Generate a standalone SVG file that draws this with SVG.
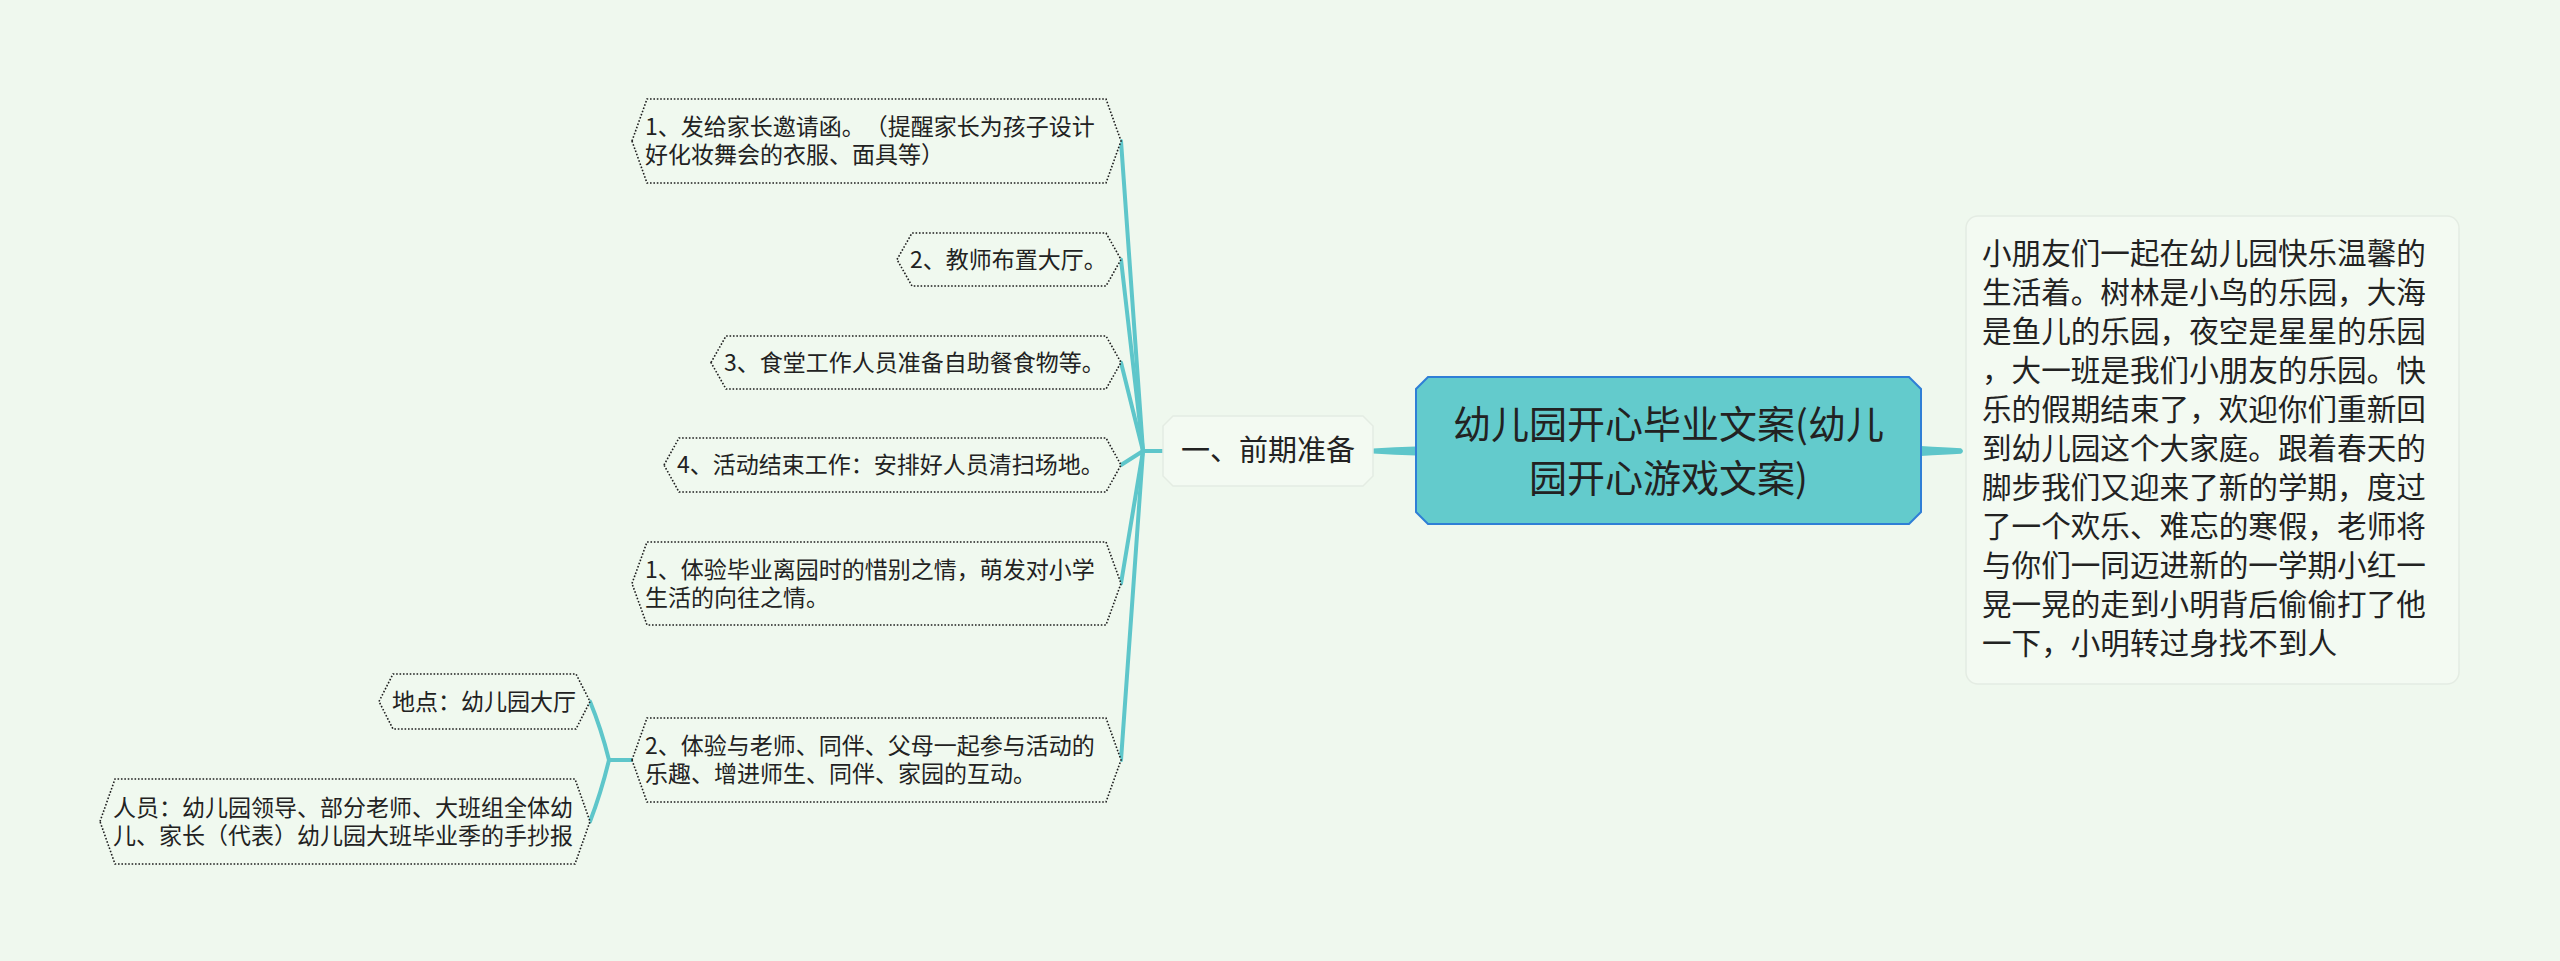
<svg xmlns="http://www.w3.org/2000/svg" width="2560" height="961" viewBox="0 0 2560 961">
<style>
.bg{fill:#eff8ee}
.leaf{fill:#f0f9ef;stroke:#1e1e1e;stroke-width:1.6;stroke-dasharray:1.6 1.8}
.t{font-family:"Noto Sans CJK SC","Noto Sans",sans-serif;fill:#222;font-kerning:none;text-spacing-trim:space-all;font-feature-settings:"chws" 0,"halt" 0,"palt" 0,"kern" 0}
.s{font-size:23px}
.ln{stroke:#5ec6ca;stroke-width:4;fill:none;stroke-linecap:round}
.taper{fill:#5ec6ca}
</style>
<rect class="bg" x="0" y="0" width="2560" height="961"/>
<g id="connectors">
<path class="ln" d="M1163,451 L1143,451"/>
<path class="ln" d="M1143,451 L1121,141"/>
<path class="ln" d="M1143,451 L1121,259.5"/>
<path class="ln" d="M1143,451 L1121,362.5"/>
<path class="ln" d="M1143,451 L1121,465"/>
<path class="ln" d="M1143,451 L1121,583.5"/>
<path class="ln" d="M1143,451 L1121,760"/>
<path class="ln" d="M632,760 L609,760"/>
<path class="ln" d="M609,760 Q601,728 590,701.5"/>
<path class="ln" d="M609,760 Q601,793 590,821.5"/>
<path class="taper" d="M1373,448.5 Q1395,447 1416,446.5 L1416,455.5 Q1395,455 1373,453.5 Z"/>
<path class="taper" d="M1921,446 Q1945,447.5 1961,448.2 Q1965,451 1961,453.8 Q1945,454.5 1921,456 Z"/>
</g>
<g id="main">
<path d="M1428,377 L1909,377 L1921,389 L1921,512 L1909,524 L1428,524 L1416,512 L1416,389 Z" fill="#63cbcc" stroke="#2f7fd6" stroke-width="2"/>
<text class="t" x="1668.5" y="438" font-size="38" text-anchor="middle">幼儿园开心毕业文案(幼儿</text>
<text class="t" x="1668.5" y="492" font-size="38" text-anchor="middle">园开心游戏文案)</text>
</g>
<g id="n-prep">
<path d="M1173,416 L1363,416 L1373,426 L1373,476 L1363,486 L1173,486 L1163,476 L1163,426 Z" fill="#f3faf2" stroke="#e4ece3" stroke-width="1.5"/>
<text class="t" x="1268" y="461" font-size="29" text-anchor="middle">一、前期准备</text>
</g>
<g id="n-desc">
<rect x="1966" y="216" width="493" height="468" rx="12" fill="#f3faf2" stroke="#e4ece3" stroke-width="1.5"/>
<text class="t" font-size="29.6">
<tspan x="1982" y="264">小朋友们一起在幼儿园快乐温馨的</tspan>
<tspan x="1982" y="303">生活着。树林是小鸟的乐园，大海</tspan>
<tspan x="1982" y="342">是鱼儿的乐园，夜空是星星的乐园</tspan>
<tspan x="1982" y="381">，大一班是我们小朋友的乐园。快</tspan>
<tspan x="1982" y="420">乐的假期结束了，欢迎你们重新回</tspan>
<tspan x="1982" y="459">到幼儿园这个大家庭。跟着春天的</tspan>
<tspan x="1982" y="498">脚步我们又迎来了新的学期，度过</tspan>
<tspan x="1982" y="537">了一个欢乐、难忘的寒假，老师将</tspan>
<tspan x="1982" y="576">与你们一同迈进新的一学期小红一</tspan>
<tspan x="1982" y="615">晃一晃的走到小明背后偷偷打了他</tspan>
<tspan x="1982" y="654">一下，小明转过身找不到人</tspan>
</text>
</g>
<g id="n1">
<path class="leaf" d="M632,141 L647,99 L1106,99 L1121,141 L1106,183 L647,183 Z"/>
<text class="t s" x="645" y="135">1、发给家长邀请函。（提醒家长为孩子设计</text>
<text class="t s" x="645" y="163">好化妆舞会的衣服、面具等）</text>
</g>
<g id="n2">
<path class="leaf" d="M897,259.5 L912,233 L1106,233 L1121,259.5 L1106,286 L912,286 Z"/>
<text class="t s" x="910" y="267.5">2、教师布置大厅。</text>
</g>
<g id="n3">
<path class="leaf" d="M711,362.5 L726,336 L1106,336 L1121,362.5 L1106,389 L726,389 Z"/>
<text class="t s" x="724" y="370.5">3、食堂工作人员准备自助餐食物等。</text>
</g>
<g id="n4">
<path class="leaf" d="M664,465 L679,438 L1106,438 L1121,465 L1106,492 L679,492 Z"/>
<text class="t s" x="677" y="473">4、活动结束工作：安排好人员清扫场地。</text>
</g>
<g id="n5">
<path class="leaf" d="M632,583.5 L647,542 L1106,542 L1121,583.5 L1106,625 L647,625 Z"/>
<text class="t s" x="645" y="577.5">1、体验毕业离园时的惜别之情，萌发对小学</text>
<text class="t s" x="645" y="605.5">生活的向往之情。</text>
</g>
<g id="n6">
<path class="leaf" d="M632,760 L647,718 L1106,718 L1121,760 L1106,802 L647,802 Z"/>
<text class="t s" x="645" y="754">2、体验与老师、同伴、父母一起参与活动的</text>
<text class="t s" x="645" y="782">乐趣、增进师生、同伴、家园的互动。</text>
</g>
<g id="n-place">
<path class="leaf" d="M379,701.5 L393,674 L576,674 L590,701.5 L576,729 L393,729 Z"/>
<text class="t s" x="392" y="709.5">地点：幼儿园大厅</text>
</g>
<g id="n-people">
<path class="leaf" d="M100,821.5 L115,779 L575,779 L590,821.5 L575,864 L115,864 Z"/>
<text class="t s" x="113" y="815.5">人员：幼儿园领导、部分老师、大班组全体幼</text>
<text class="t s" x="113" y="843.5">儿、家长（代表）幼儿园大班毕业季的手抄报</text>
</g>
</svg>
